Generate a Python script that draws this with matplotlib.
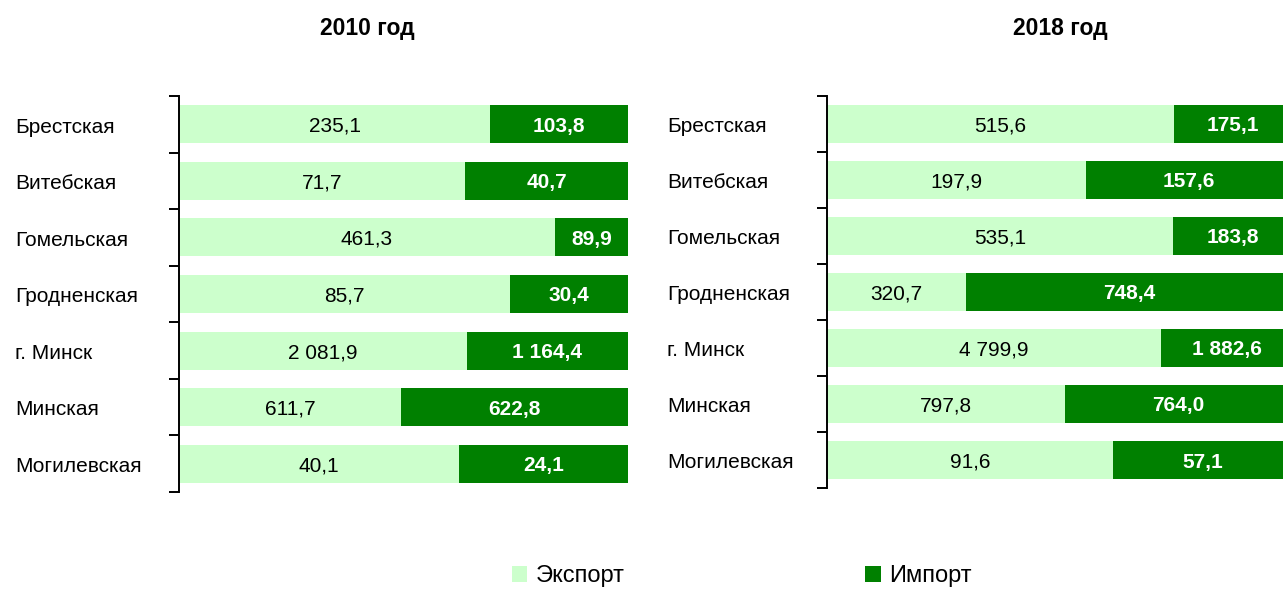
import matplotlib
matplotlib.use("Agg")
import matplotlib.pyplot as plt
import matplotlib.transforms as mtransforms
import numpy as np

plt.rcParams['font.family'] = ['Liberation Sans', 'DejaVu Sans']

regions = ["Брестская", "Витебская", "Гомельская", "Гродненская",
           "г. Минск", "Минская", "Могилевская"]

export_2010 = [235.1, 71.7, 461.3, 85.7, 2081.9, 611.7, 40.1]
import_2010 = [103.8, 40.7, 89.9, 30.4, 1164.4, 622.8, 24.1]

export_2018 = [515.6, 197.9, 535.1, 320.7, 4799.9, 797.8, 91.6]
import_2018 = [175.1, 157.6, 183.8, 748.4, 1882.6, 764.0, 57.1]

titles = ["2010 год", "2018 год"]
legend_labels = ["Экспорт", "Импорт"]

EXPORT_COLOR = "#CCFFCC"
IMPORT_COLOR = "#008000"

W, H = 1283, 591
fig = plt.figure(figsize=(W / 100, H / 100), dpi=100)


def fmt(v):
    return f"{v:,.1f}".replace(",", " ").replace(".", ",")


def panel(rect, exp, imp, label_x):
    ax = fig.add_axes(rect)
    exp = np.array(exp)
    imp = np.array(imp)
    total = exp + imp
    y = np.arange(len(regions))
    e_share = exp / total * 100
    i_share = imp / total * 100
    b1 = ax.barh(y, e_share, height=0.67, color=EXPORT_COLOR, label=legend_labels[0])
    b2 = ax.barh(y, i_share, left=e_share, height=0.67, color=IMPORT_COLOR,
                 label=legend_labels[1])
    for a in ax.bar_label(b1, labels=[fmt(v) for v in exp], label_type="center",
                          fontsize=15, color="black"):
        a.set_va("center_baseline")
    for a in ax.bar_label(b2, labels=[fmt(v) for v in imp], label_type="center",
                          fontsize=15, color="white", fontweight="bold"):
        a.set_va("center_baseline")
    ax.set_xlim(0, 100)
    ax.set_ylim(len(regions) - 0.5, -0.5)
    ax.set_yticks(np.arange(-0.5, len(regions), 1.0))
    ax.set_yticklabels([])
    ax.tick_params(axis="y", direction="out", length=7, width=1.4, color="black")
    ax.set_xticks([])
    for s in ["top", "right", "bottom"]:
        ax.spines[s].set_visible(False)
    ax.spines["left"].set_linewidth(1.4)
    trans = mtransforms.blended_transform_factory(fig.transFigure, ax.transData)
    for yi, name in zip(y, regions):
        ax.text(label_x, yi + 0.05, name, transform=trans,
                ha="left", va="center", fontsize=15)
    return ax


ax1 = panel([179 / W, 99 / H, 449 / W, 396 / H], export_2010, import_2010, 15 / W)
ax2 = panel([827 / W, 103 / H, 465 / W, 392 / H], export_2018, import_2018, 667 / W)

fig.text(367 / W, 1 - 28 / H, titles[0], ha="center", va="center",
         fontsize=16.5, fontweight="bold")
fig.text(1060 / W, 1 - 28 / H, titles[1], ha="center", va="center",
         fontsize=16.5, fontweight="bold")

handles, labels = ax1.get_legend_handles_labels()
fig.legend(handles, labels, loc="center left", bbox_to_anchor=(512 / W, 15 / H),
           ncol=2, frameon=False, fontsize=17, handlelength=0.65, handleheight=0.65,
           handletextpad=0.35, columnspacing=10.2, borderpad=0, borderaxespad=0)

fig.savefig("out.png", dpi=100)
